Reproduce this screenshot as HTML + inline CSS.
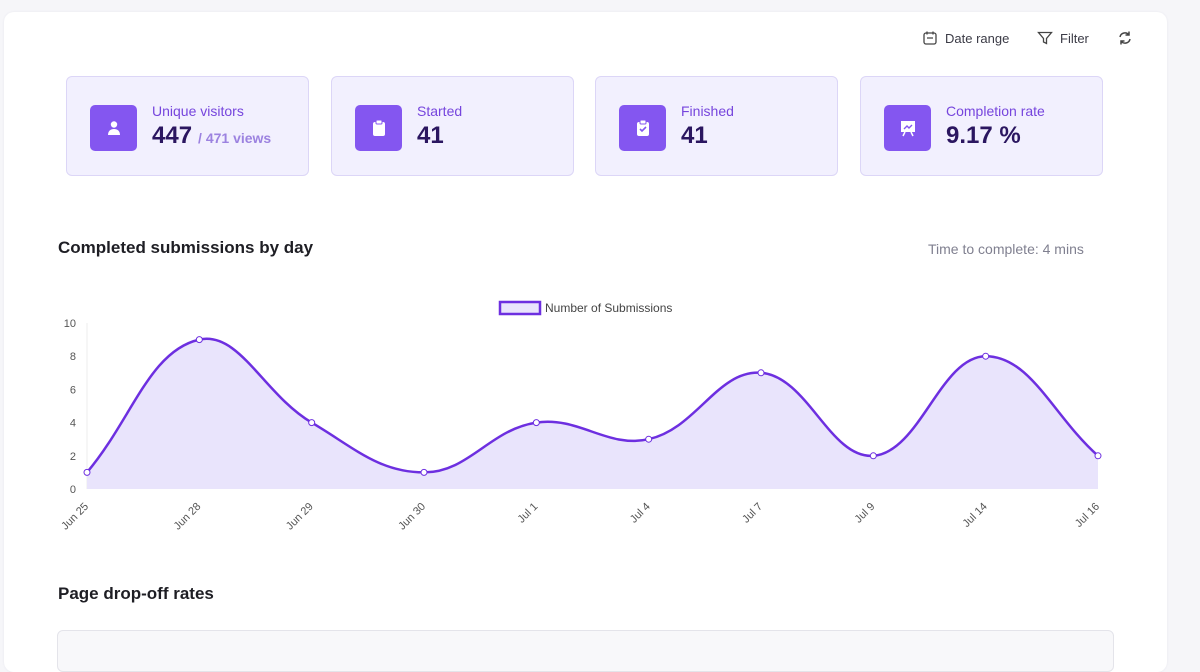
<!DOCTYPE html>
<html><head><meta charset="utf-8"><style>
body{margin:0;width:1200px;height:646px;background:#f6f6f9;font-family:"Liberation Sans",sans-serif;overflow:hidden;position:relative}
.panel{position:absolute;left:4px;top:12px;width:1163px;height:660px;background:#fff;border-radius:10px;box-shadow:0 0 2px #e6e6ee}
.tb{position:absolute;top:30px;font-size:13px;color:#3b3b46;display:flex;align-items:center;gap:7px}
.card{position:absolute;top:76px;width:243px;height:100px;background:#f2f0fe;border:1px solid #dcd6f7;border-radius:6px;box-sizing:border-box}
.ic{position:absolute;left:23px;top:28px;width:47px;height:46px;background:#8456f0;border-radius:5px;display:flex;align-items:center;justify-content:center}
.lb{position:absolute;left:85px;top:26px;font-size:14px;color:#7645dd}
.val{position:absolute;left:85px;top:45px;font-size:24px;font-weight:bold;color:#2b1660}
.val span{font-size:14px;color:#9c82e0;font-weight:bold;margin-left:6px}
h2{position:absolute;margin:0;font-size:17px;font-weight:bold;color:#1e1e24}
</style></head><body>
<div class="panel"></div>
<div class="tb" style="left:922px"><svg width="16" height="16" viewBox="0 0 16 16"><rect x="2" y="3" width="12" height="11" rx="2" fill="none" stroke="#444" stroke-width="1.3"/><path d="M5 1.5v3M11 1.5v3M5 8h6" stroke="#444" stroke-width="1.3"/></svg>Date range</div>
<div class="tb" style="left:1037px"><svg width="16" height="16" viewBox="0 0 16 16"><path d="M1.5 2.5h13l-5 6v5l-3-1.5v-3.5z" fill="none" stroke="#444" stroke-width="1.3"/></svg>Filter</div>
<div class="tb" style="left:1117px"><svg width="16" height="16" viewBox="0 0 16 16"><path d="M3 7a5 5 0 0 1 9-2M13 9a5 5 0 0 1-9 2M12 1.5v3.5h-3.5M4 14.5v-3.5h3.5" fill="none" stroke="#444" stroke-width="1.5"/></svg></div>

<div class="card" style="left:66px"><div class="ic"><svg width="18" height="18" viewBox="0 0 18 18"><circle cx="9" cy="5.5" r="3.2" fill="#fff"/><path d="M3 16c0-4 2.5-6 6-6s6 2 6 6z" fill="#fff"/></svg></div><div class="lb">Unique visitors</div><div class="val">447<span>/ 471 views</span></div></div>
<div class="card" style="left:331px"><div class="ic"><svg width="16" height="18" viewBox="0 0 16 18"><rect x="2" y="3" width="12" height="14" rx="2" fill="#fff"/><rect x="5" y="1" width="6" height="4" rx="1" fill="#fff" stroke="#8456f0"/></svg></div><div class="lb">Started</div><div class="val">41</div></div>
<div class="card" style="left:595px"><div class="ic"><svg width="16" height="18" viewBox="0 0 16 18"><rect x="2" y="3" width="12" height="14" rx="2" fill="#fff"/><rect x="5" y="1" width="6" height="4" rx="1" fill="#fff" stroke="#8456f0"/><path d="M5 10l2 2 4-4" stroke="#8456f0" stroke-width="1.6" fill="none"/></svg></div><div class="lb">Finished</div><div class="val">41</div></div>
<div class="card" style="left:860px"><div class="ic"><svg width="18" height="18" viewBox="0 0 18 18"><rect x="2" y="2" width="14" height="11" fill="#fff"/><path d="M5 10l3-3 2 2 3-3" stroke="#8456f0" stroke-width="1.4" fill="none"/><path d="M6 13l-2 4M12 13l2 4" stroke="#fff" stroke-width="1.5"/></svg></div><div class="lb">Completion rate</div><div class="val">9.17 %</div></div>

<h2 style="left:58px;top:238px">Completed submissions by day</h2>
<div style="position:absolute;left:928px;top:241px;font-size:14px;color:#808090">Time to complete: 4 mins</div>
<h2 style="left:58px;top:584px">Page drop-off rates</h2>
<div style="position:absolute;left:57px;top:630px;width:1055px;height:40px;border:1px solid #e4e4ea;border-radius:6px;background:#f8f8fa"></div>

<svg id="chart" width="1200" height="646" style="position:absolute;left:0;top:0"></svg>
<script>
const categories=["Jun 25","Jun 28","Jun 29","Jun 30","Jul 1","Jul 4","Jul 7","Jul 9","Jul 14","Jul 16"];
const submissions=[1,9,4,1,4,3,7,2,8,2];
const yTicks=[0,2,4,6,8,10];
const NS="http://www.w3.org/2000/svg";
const svg=document.getElementById('chart');
const x0=87,x1=1098,yTop=323,yBot=489,yMax=10;
const xs=i=>x0+i*(x1-x0)/(categories.length-1);
const ys=v=>yBot-(v/yMax)*(yBot-yTop);
function mk(t,a){const e=document.createElementNS(NS,t);for(const k in a)e.setAttribute(k,a[k]);svg.appendChild(e);return e;}
const ax=mk('line',{x1:x0,y1:yTop,x2:x0,y2:yBot,stroke:'#eee'});

yTicks.forEach(v=>{const t=mk('text',{x:76,y:ys(v)+4,'text-anchor':'end','font-size':11,fill:'#555','font-family':'Liberation Sans'});t.textContent=v;
});
categories.forEach((c,i)=>{const tx=xs(i)+2,ty=yBot+18;const t=mk('text',{x:tx,y:ty,'text-anchor':'end','font-size':11,fill:'#555','font-family':'Liberation Sans',transform:`rotate(-45 ${tx} ${ty})`});t.textContent=c;
});
const pts=submissions.map((v,i)=>[xs(i),ys(v)]);
const T=0.4;
function cps(p0,p1,p2){const d01=Math.hypot(p1[0]-p0[0],p1[1]-p0[1]),d12=Math.hypot(p2[0]-p1[0],p2[1]-p1[1]);let fa=d01/(d01+d12)||0,fb=d12/(d01+d12)||0;fa*=T;fb*=T;
return [[p1[0]-fa*(p2[0]-p0[0]),p1[1]-fa*(p2[1]-p0[1])],[p1[0]+fb*(p2[0]-p0[0]),p1[1]+fb*(p2[1]-p0[1])]];}
const cp=pts.map((p,i)=>cps(pts[Math.max(0,i-1)],p,pts[Math.min(pts.length-1,i+1)]));
let d=`M${pts[0][0]},${pts[0][1]}`;
for(let i=1;i<pts.length;i++){const a=cp[i-1][1],b=cp[i][0];d+=` C${Math.max(x0,a[0])},${Math.min(yBot,a[1])} ${b[0]},${Math.min(yBot,b[1])} ${pts[i][0]},${pts[i][1]}`;}
const area=mk('path',{d:d+` L${x1},${yBot} L${x0},${yBot} Z`,fill:'#e9e4fc'});

const line=mk('path',{d:d,fill:'none',stroke:'#6d2fe0','stroke-width':2.5});

pts.forEach(p=>{const c=mk('circle',{cx:p[0],cy:p[1],r:3,fill:'#fff',stroke:'#6d2fe0','stroke-width':1});
});
const lr=mk('rect',{x:500,y:302,width:40,height:12,fill:'#e9e4fc',stroke:'#6d2fe0','stroke-width':2.5});

const lt=mk('text',{x:545,y:312,'font-size':12,fill:'#444','font-family':'Liberation Sans'});lt.textContent='Number of Submissions';

</script>
</body></html>
